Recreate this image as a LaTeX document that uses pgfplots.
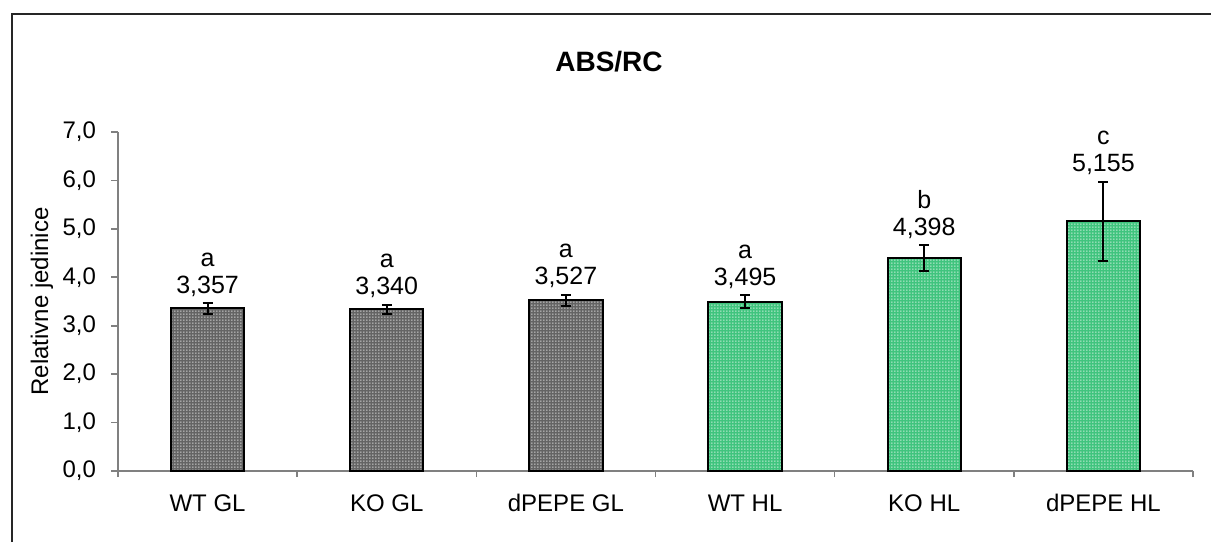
\documentclass[border=0pt]{standalone}
\usepackage{pgfplots}
\pgfplotsset{compat=1.18}
\usepackage{fontspec}
\setmainfont{Liberation Sans}
\usetikzlibrary{patterns}

\definecolor{glgray}{HTML}{646464}
\definecolor{hlgreen}{HTML}{40C47E}
\definecolor{axisgray}{HTML}{808080}

% fine white dot grid laid over the bar colour
\pgfdeclarepatternformonly{finedots}{\pgfqpoint{0pt}{0pt}}{\pgfqpoint{1.5pt}{1.5pt}}{\pgfqpoint{1.5pt}{1.5pt}}{%
  \pgfpathrectangle{\pgfqpoint{0.2pt}{0.2pt}}{\pgfqpoint{0.75pt}{0.75pt}}\pgfusepath{fill}}

\tikzset{vallab/.style={inner sep=0pt, anchor=base, font=\fontsize{12.5}{15}\selectfont}}
% #1 x, #2 top of error bar, #3 letter, #4 value text
\newcommand{\barlabel}[4]{%
  \node[vallab, yshift=5pt] at (axis cs:#1,#2) {#4};
  \node[vallab, yshift=18.5pt] at (axis cs:#1,#2) {#3};}

\begin{document}
\begin{tikzpicture}
\useasboundingbox (0,0) rectangle (605.5pt,271pt);
\draw[line width=0.7pt, black!85] (6pt,0) -- (6pt,264pt) -- (605.5pt,264pt);
\node[font=\fontsize{14}{16}\selectfont\bfseries, anchor=base] at (304.5pt,235pt) {ABS/RC};

\begin{axis}[
  at={(59pt,35.5pt)}, anchor=south west,
  scale only axis, width=537.5pt, height=169.5pt,
  xmin=-0.5, xmax=5.5, ymin=0, ymax=7,
  clip=false,
  axis x line=bottom, axis y line=left,
  axis line style={axisgray, line width=0.8pt, -},
  tick style={axisgray, line width=0.8pt},
  tick align=outside,
  ytick={0,1,...,7},
  major tick length=3.5pt,
  minor tick length=3pt,
  xtick={0,...,5},
  xticklabels={WT GL, KO GL, dPEPE GL, WT HL, KO HL, dPEPE HL},
  major x tick style={draw=none},
  minor xtick={-0.5,0.5,...,5.5},
  font=\fontsize{12}{14}\selectfont,
  xticklabel style={text height=9pt, text depth=2pt, yshift=-4pt},
  yticklabel style={xshift=-4pt, /pgf/number format/.cd, fixed, fixed zerofill, precision=1, use comma, assume math mode=true},
  ylabel={Relativne jedinice},
  ylabel style={at={(axis description cs:-0.0707,0.5)}, anchor=center, rotate=0},
  ybar, bar width=0.41, bar shift=0pt,
  error bars/error bar style={black, line width=1pt},
  error bars/error mark options={black, rotate=90, mark size=2.5pt, line width=1pt},
]
\addplot[draw=black, line width=1pt, preaction={fill=glgray}, pattern=finedots, pattern color=white,
  error bars/.cd, y dir=both, y explicit]
coordinates {
  (0,3.357) +- (0,0.11)
  (1,3.340) +- (0,0.09)
  (2,3.527) +- (0,0.11)
};
\addplot[draw=black, line width=1pt, preaction={fill=hlgreen}, pattern=finedots, pattern color=white,
  error bars/.cd, y dir=both, y explicit]
coordinates {
  (3,3.495) +- (0,0.13)
  (4,4.398) +- (0,0.26)
  (5,5.155) +- (0,0.82)
};
\barlabel{0}{3.467}{a}{3,357}
\barlabel{1}{3.430}{a}{3,340}
\barlabel{2}{3.637}{a}{3,527}
\barlabel{3}{3.625}{a}{3,495}
\barlabel{4}{4.658}{b}{4,398}
\barlabel{5}{5.975}{c}{5,155}
\end{axis}
\end{tikzpicture}
\end{document}
